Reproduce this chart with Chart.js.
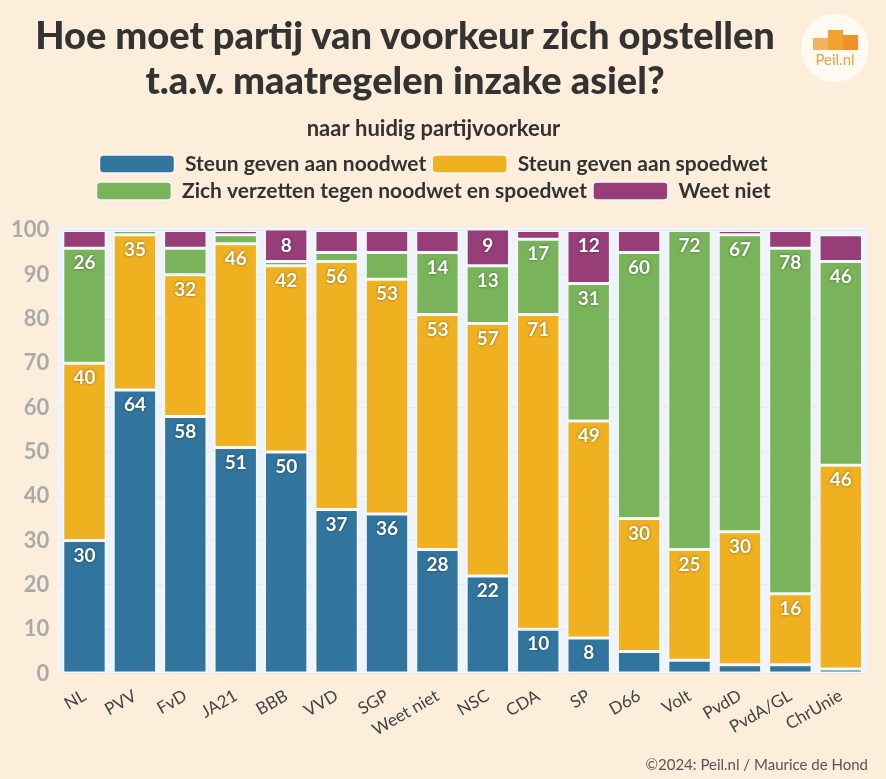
<!DOCTYPE html>
<html>
<head>
<meta charset="utf-8">
<script src="https://cdn.jsdelivr.net/npm/chart.js@4"></script>
<style>
  body { margin: 0; background: #fdeedb; font-family: Lato, "Noto Sans", sans-serif; }
  #wrap { position: relative; width: 886px; height: 779px; }
  #title { position: absolute; left: 0; top: 12px; width: 810px; text-align: center;
    font-weight: 900; font-size: 38px; line-height: 45px; color: #333; }
  #footer { position: absolute; right: 18px; bottom: 6px; font-size: 15px; color: #555; }
  #logo { position: absolute; left: 801px; top: 14px; width: 68px; height: 68px; border-radius: 50%;
    background: #fffaf2; }
  #logo .b { position: absolute; bottom: 32px; width: 15px; }
  #logo .t { position: absolute; left: 0; width: 68px; top: 36px; text-align: center;
    font-size: 15px; color: #eaa24a; }
</style>
</head>
<body>
<div id="wrap">
  <canvas id="chart" width="886" height="779"></canvas>
  <div id="title">Hoe moet partij van voorkeur zich opstellen<br>t.a.v. maatregelen inzake asiel?</div>
  <div id="logo">
    <div class="b" style="left:12px;height:12px;background:#f3b462"></div>
    <div class="b" style="left:27px;height:20px;background:#f0a22e"></div>
    <div class="b" style="left:42px;height:15px;background:#ec9226"></div>
    <div class="t">Peil.nl</div>
  </div>
  <div id="footer">©2024: Peil.nl / Maurice de Hond</div>
</div>
<script>
const parties = ["NL", "PVV", "FvD", "JA21", "BBB", "VVD", "SGP", "Weet niet", "NSC", "CDA", "SP", "D66", "Volt", "PvdD", "PvdA/GL", "ChrUnie"];
const noodwet = [30, 64, 58, 51, 50, 37, 36, 28, 22, 10, 8, 5, 3, 2, 2, 1];
const spoedwet = [40, 35, 32, 46, 42, 56, 53, 53, 57, 71, 49, 30, 25, 30, 16, 46];
const verzetten = [26, 1, 6, 2, 1, 2, 6, 14, 13, 17, 31, 60, 72, 67, 78, 46];
const weetNiet = [4, 0, 4, 1, 8, 5, 5, 5, 9, 2, 12, 5, 0, 1, 4, 6];
const yTicks = [0, 10, 20, 30, 40, 50, 60, 70, 80, 90, 100];

const plotBg = {
  id: "plotBg",
  beforeDraw(chart) {
    const a = chart.chartArea;
    const c = chart.ctx;
    c.save();
    c.fillStyle = "#eef4fa";
    c.fillRect(a.left - 2, a.top - 3, a.right - a.left + 4, a.bottom - a.top + 3);
    c.restore();
  }
};

// extra room under the legend
const legendGap = {
  id: "legendGap",
  beforeInit(chart) {
    const fit = chart.legend.fit;
    chart.legend.fit = function () {
      fit.bind(chart.legend)();
      this.height += 19;
    };
  }
};

const barLabels = {
  id: "barLabels",
  afterDatasetsDraw(chart) {
    const c = chart.ctx;
    c.save();
    c.font = "bold 19px Lato, 'Noto Sans', sans-serif";
    c.fillStyle = "#fff";
    c.textAlign = "center";
    c.textBaseline = "middle";
    c.shadowColor = "rgba(0,0,0,0.45)";
    c.shadowBlur = 3;
    chart.data.datasets.forEach((ds, i) => {
      chart.getDatasetMeta(i).data.forEach((el, j) => {
        const v = ds.data[j];
        if (v < 8) return;
        const top = Math.max(el.y, chart.chartArea.top);
        c.fillText(v, el.x, top + 15);
      });
    });
    c.restore();
  }
};

function series(label, data, color) {
  return {
    label: label,
    data: data,
    backgroundColor: color,
    borderColor: "#f7f9fb",
    borderWidth: 1.5,
    borderSkipped: false,
    barPercentage: 0.86,
    categoryPercentage: 1
  };
}

new Chart(document.getElementById("chart"), {
  type: "bar",
  data: {
    labels: parties,
    datasets: [
      series("Steun geven aan noodwet", noodwet, "#31759f"),
      series("Steun geven aan spoedwet", spoedwet, "#efb120"),
      series("Zich verzetten tegen noodwet en spoedwet", verzetten, "#7ab45a"),
      series("Weet niet", weetNiet, "#973e78")
    ]
  },
  options: {
    responsive: false,
    animation: false,
    layout: { padding: { top: 106, left: 1, right: 20, bottom: 35 } },
    plugins: {
      subtitle: {
        display: true,
        text: "naar huidig partijvoorkeur",
        color: "#333",
        font: { family: "Lato", size: 22, weight: "bold" },
        padding: { top: 10, bottom: 5 }
      },
      legend: {
        labels: {
          color: "#333",
          font: { family: "Lato", size: 21, weight: "bold" },
          boxWidth: 75,
          boxHeight: 18,
          useBorderRadius: true,
          borderRadius: 4,
          padding: 6
        }
      },
      tooltip: { enabled: false }
    },
    scales: {
      x: {
        stacked: true,
        grid: { display: false },
        border: { display: false },
        ticks: {
          color: "#444",
          font: { family: "Lato", size: 17 },
          minRotation: 30,
          maxRotation: 30,
          padding: 4
        }
      },
      y: {
        stacked: true,
        min: 0,
        max: 100,
        afterBuildTicks(axis) { axis.ticks = yTicks.map(v => ({ value: v })); },
        grid: { color: "rgba(225,230,236,0.7)", drawTicks: false },
        border: { display: false },
        ticks: {
          color: "#aaa",
          font: { family: "Lato", size: 22, weight: "bold" },
          padding: 10
        }
      }
    }
  },
  plugins: [plotBg, legendGap, barLabels]
});
</script>
</body>
</html>
